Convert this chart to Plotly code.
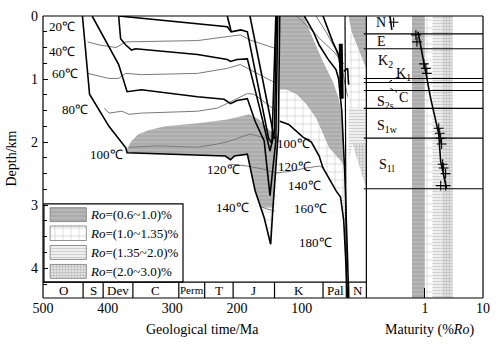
import plotly.graph_objects as go

FONT = "Liberation Serif"

# ---------------- data (age in Ma, depth in km) ----------------
# burial curves (thick black)
b1_age = [439, 428, 398, 372, 370, 261, 218, 210, 204, 184, 172, 158, 148, 145, 140, 136, 134]
b1_dep = [0, 1.24, 1.75, 2.09, 2.17, 2.20, 2.22, 2.28, 2.22, 2.19, 2.77, 3.20, 3.62, 3.13, 2.35, 1.83, 0]
b2_age = [424, 402, 383, 370, 348, 261, 220, 210, 200, 184, 172, 158, 154, 149, 145, 140, 137]
b2_dep = [0, 0.41, 0.77, 1.20, 1.17, 1.28, 1.32, 1.39, 1.34, 1.31, 1.67, 1.98, 2.41, 2.85, 2.46, 1.98, 0]
b3_age = [383, 380, 372, 363, 357, 261, 215, 210, 200, 184, 165, 154, 149, 142, 139]
b3_dep = [0, 0.36, 0.46, 0.54, 0.52, 0.61, 0.69, 0.72, 0.69, 0.68, 1.46, 1.94, 2.14, 1.83, 0]
b4_age = [383, 261, 215, 209, 194, 184, 151, 146, 140]
b4_dep = [0, 0.13, 0.17, 0.25, 0.22, 0.25, 1.95, 2.02, 0]
b5_age = [180, 142]
b5_dep = [0, 1.95]
b6_age = [215, 209]
b6_dep = [0, 0.25]
k1_age = [134, 120, 98, 85, 73, 67, 47, 40, 35, 30.5, 29]
k1_dep = [1.67, 1.72, 1.92, 2.00, 2.22, 2.41, 2.77, 2.87, 3.24, 4.03, 4.47]
k2_age = [96, 82, 73, 59.5, 47, 43, 38, 33.5, 29, 27.4]
k2_dep = [0, 0.25, 0.46, 0.68, 0.85, 0.99, 1.51, 2.46, 3.87, 4.47]
k3_age = [67, 59.5, 52, 43, 40, 38]
k3_dep = [0, 0.20, 0.41, 0.61, 0.83, 1.31]
kbar_age = [39.6, 38.1]
kbar_dep = [0.44, 1.31]
k4_age = [35, 29, 27.4]
k4_dep = [0.88, 0.83, 1.09]
v1_age = [33, 31]
v1_dep = [0, 4.47]

# isotherms (thin grey)
i40_age = [431, 413, 387, 378, 372, 261, 215, 195, 180, 162, 139]
i40_dep = [0.41, 0.46, 0.50, 0.44, 0.41, 0.39, 0.33, 0.30, 0.38, 0.44, 0.52]
i60_age = [431, 398, 383, 372, 348, 261, 215, 195, 180, 139]
i60_dep = [0.91, 0.99, 0.99, 0.91, 0.93, 0.91, 0.83, 0.77, 0.85, 1.07]
i80_age = [405, 398, 378, 367, 348, 261, 230, 200, 184, 174, 139]
i80_dep = [1.46, 1.54, 1.51, 1.56, 1.54, 1.51, 1.46, 1.31, 1.23, 1.24, 1.51]
i100_age = [367, 322, 261, 230, 210, 180, 139]
i100_dep = [2.08, 2.06, 2.08, 2.03, 1.98, 1.87, 1.98]
i120_age = [210, 184, 158.5, 139, 116, 93, 73, 65.5]
i120_dep = [2.35, 2.38, 2.43, 2.49, 2.46, 2.41, 2.38, 2.41]
i140_age = [166, 154, 142]
i140_dep = [3.01, 3.06, 3.09]
ik1_age = [108, 85, 70, 50, 35]
ik1_dep = [0, 0.22, 0.38, 0.57, 0.76]
ik2_age = [78, 62.5, 47, 36.6, 29]
ik2_dep = [0, 0.25, 0.54, 0.88, 1.28]

# maturity zones (polygons)
z1a_age = [372, 363, 352, 337, 311, 261, 215, 195, 181, 166, 151, 137, 140, 143, 163, 172, 184, 204, 210, 218, 261, 370]
z1a_dep = [2.14, 1.98, 1.87, 1.81, 1.75, 1.70, 1.64, 1.59, 1.56, 1.64, 1.80, 1.91, 2.35, 3.04, 3.04, 2.77, 2.19, 2.22, 2.28, 2.22, 2.20, 2.17]
z2a_age = [163, 143, 146, 148]
z2a_dep = [3.04, 3.04, 3.61, 3.62]
z2b_age = [140, 134, 139, 143]
z2b_dep = [2.35, 2.30, 3.12, 3.09]
z1b_age = [134, 97.6, 82.3, 67.1, 51.8, 42.7, 36.6, 35.1, 39.6, 57.9, 67.1, 77.7, 93, 108.2, 123.5, 134.1]
z1b_dep = [0, 0, 0.36, 0.72, 1.04, 1.31, 1.67, 2.38, 2.30, 2.09, 1.87, 1.62, 1.40, 1.24, 1.17, 1.17]
z2c_age = [134.1, 123.5, 108.2, 93, 77.7, 67.1, 57.9, 39.6, 35.1, 33.5, 39.6, 47.3, 67.1, 73.2, 85.4, 97.6, 112.8, 123.5, 134.1]
z2c_dep = [1.17, 1.17, 1.24, 1.40, 1.62, 1.87, 2.09, 2.30, 2.38, 2.93, 2.87, 2.77, 2.41, 2.22, 2.00, 1.91, 1.73, 1.67, 1.69]
z3a_age = [39.6, 33.5, 30.5, 36.6]
z3a_dep = [2.87, 2.93, 3.24, 3.21]
n1_age = [27.4, 0, 0, 22.9]
n1_dep = [0, 0, 0.85, 0.25]
n2_age = [22.9, 0, 0, 27.4, 27.4]
n2_dep = [0.25, 0.85, 1.465, 1.465, 0.41]
n3_age = [27.4, 0, 0, 21.3, 27.4]
n3_dep = [1.465, 1.465, 2.03, 2.03, 2.30]
n4_age = [21.3, 0, 0]
n4_dep = [2.03, 2.03, 2.74]

# isotherm labels
iso_text = ["20℃", "40℃", "60℃", "80℃", "100℃", "120℃", "140℃", "100℃", "120℃", "140℃", "160℃", "180℃"]
iso_age = [471, 471, 466, 451, 402, 221, 207, 113, 111, 96, 87, 79]
iso_dep = [0.17, 0.57, 0.91, 1.48, 2.19, 2.43, 3.04, 2.02, 2.39, 2.69, 3.06, 3.59]

# geological time scale
period_names = ["O", "S", "Dev", "C", "Perm", "T", "J", "K", "Pal", "N"]
period_bounds = [500, 438, 407, 361, 290, 250, 206, 142, 67, 27.4, 0]

# legend classes
ro_classes = ["(0.6~1.0)%", "(1.0~1.35)%", "(1.35~2.0)%", "(2.0~3.0)%"]
ro_lo = [0.6, 1.0, 1.35, 2.0]
ro_hi = [1.0, 1.35, 2.0, 3.0]

# right panel: well strata and vitrinite reflectance
strata_lines = [0.283, 0.520, 0.992, 1.055, 1.181, 1.465, 1.937, 2.740]
profile_ro = [0.76, 1.04, 1.26, 1.73, 1.87, 2.10, 2.36]
profile_dep = [0.25, 0.88, 1.31, 1.87, 2.31, 2.52, 2.74]
meas_ro = [0.70, 0.73, 0.96, 1.04, 1.08, 1.73, 1.80, 1.87, 1.94, 2.02, 2.10, 2.27, 1.87, 2.27, 0.29]
meas_dep = [0.30, 0.41, 0.76, 0.83, 0.91, 1.78, 1.86, 1.94, 2.03, 2.35, 2.41, 2.50, 2.69, 2.69, 0.10]
nseg_ro = [0.25, 0.27]
nseg_dep = [0, 0.22]

DMAX = 4.472

# ---------------- styles ----------------
GRAY = dict(shape='-', bgcolor='#ababab', fgcolor='#d4d4d4', size=4, solidity=0.3)
BRICK = dict(shape='+', bgcolor='#ffffff', fgcolor='#8a8a8a', size=8, solidity=0.14)
LIGHT = dict(shape='-', bgcolor='#f2f2f2', fgcolor='#acacac', size=3, solidity=0.4)
GRID = dict(shape='+', bgcolor='#e2e2e2', fgcolor='#8a8a8a', size=3, solidity=0.35)
PATS = [GRAY, BRICK, LIGHT, GRID]

fig = go.Figure()


def poly(age, dep, pat, xa='x', border=None):
    fig.add_trace(go.Scatter(
        x=list(age) + [age[0]], y=list(dep) + [dep[0]], mode='lines', fill='toself',
        fillcolor=pat['bgcolor'], fillpattern=pat,
        line=dict(width=0.8 if border else 0, color=border or 'rgba(0,0,0,0)'),
        hoverinfo='skip', xaxis=xa, yaxis='y'))


def line(age, dep, w=1.8, color='black', xa='x', dash=None):
    fig.add_trace(go.Scatter(x=age, y=dep, mode='lines',
                             line=dict(width=w, color=color, dash=dash),
                             hoverinfo='skip', xaxis=xa, yaxis='y'))


# right panel bands
for lo, hi, pat in zip(ro_lo, ro_hi, PATS):
    poly([lo, hi, hi, lo], [0, 0, DMAX, DMAX], pat, xa='x2')

# main panel zones
poly(z1a_age, z1a_dep, GRAY)
poly(z2a_age, z2a_dep, BRICK)
poly(z2b_age, z2b_dep, BRICK)
poly(z1b_age, z1b_dep, GRAY)
poly(z2c_age, z2c_dep, BRICK)
poly(z3a_age, z3a_dep, LIGHT)
poly(n1_age, n1_dep, GRAY)
poly(n2_age, n2_dep, BRICK)
poly(n3_age, n3_dep, LIGHT)
poly(n4_age, n4_dep, GRID)

# isotherms
for a, d in [(i40_age, i40_dep), (i60_age, i60_dep), (i80_age, i80_dep), (i100_age, i100_dep),
             (i120_age, i120_dep), (i140_age, i140_dep), (ik1_age, ik1_dep), (ik2_age, ik2_dep)]:
    line(a, d, w=1, color='#7a7a7a')

# burial curves
for a, d in [(b1_age, b1_dep), (b2_age, b2_dep), (b3_age, b3_dep), (b4_age, b4_dep),
             (b5_age, b5_dep), (b6_age, b6_dep), (k1_age, k1_dep), (k2_age, k2_dep),
             (k3_age, k3_dep), (k4_age, k4_dep)]:
    line(a, d, w=1.6)
line(kbar_age, kbar_dep, w=4)
line(v1_age, v1_dep, w=1.2)

# legend swatches
sw_x0, sw_x1 = 489, 433
sw_rows = [(3.04, 3.26), (3.33, 3.56), (3.64, 3.86), (3.94, 4.16)]
for (y0, y1), pat in zip(sw_rows, PATS):
    poly([sw_x0, sw_x1, sw_x1, sw_x0], [y0, y0, y1, y1], pat, border='#777777')

# right panel profile
line(profile_ro, profile_dep, w=1.6, xa='x2')
line(nseg_ro, nseg_dep, w=1.6, xa='x2')
fig.add_trace(go.Scatter(x=meas_ro, y=meas_dep, mode='markers', xaxis='x2', yaxis='y',
                         marker=dict(symbol='cross-thin', size=7, line=dict(width=1.1, color='black')),
                         hoverinfo='skip'))
line([0.245, 0.36], [1.04, 0.96], w=1, xa='x2', dash='dot')
line([0.255, 0.33], [1.15, 1.21], w=1, xa='x2', dash='dot')

# ---------------- shapes ----------------
shapes = []
# legend box
shapes.append(dict(type='rect', xref='x', yref='y', x0=498.5, x1=283.5, y0=2.98, y1=4.22,
                   line=dict(color='black', width=1.2), fillcolor='white', layer='below'))
# time bar
shapes.append(dict(type='line', xref='x', yref='y', x0=500, x1=0, y0=4.22, y1=4.22,
                   line=dict(color='black', width=1.2)))
for b in period_bounds[1:-1]:
    shapes.append(dict(type='line', xref='x', yref='y', x0=b, x1=b, y0=4.22, y1=DMAX,
                       line=dict(color='black', width=1.2)))
# frame
SEP = (371.5 - 43) / 447
for x0, x1, y0, y1 in [(0, 1, 1, 1), (0, 1, 0, 0), (1, 1, 0, 1), (SEP, SEP, 0, 1), (0, 0, 0, 1)]:
    shapes.append(dict(type='line', xref='paper', yref='paper', x0=x0, x1=x1, y0=y0, y1=y1,
                       line=dict(color='black', width=1.2)))
# strata boundaries in the well column
for d in strata_lines:
    shapes.append(dict(type='line', xref='paper', yref='y', x0=0.729, x1=1.0, y0=d, y1=d,
                       line=dict(color='black', width=1.1)))

# ---------------- annotations ----------------
ann = []
C = dict(xanchor='center', yanchor='middle', showarrow=False)
for t, a, d in zip(iso_text, iso_age, iso_dep):
    ann.append(dict(x=a, y=d, xref='x', yref='y', text=t,
                    font=dict(family=FONT, size=13, color='black'), **C))
for i, name in enumerate(period_names):
    mid = (period_bounds[i] + period_bounds[i + 1]) / 2
    ann.append(dict(x=mid, y=(4.22 + DMAX) / 2, xref='x', yref='y', text=name,
                    font=dict(family=FONT, size=11 if name == 'Perm' else 13, color='black'), **C))
for (y0, y1), cls in zip(sw_rows, ro_classes):
    ann.append(dict(x=430, y=(y0 + y1) / 2, xref='x', yref='y', xanchor='left', yanchor='middle',
                    text='<i>Ro</i>=' + cls, showarrow=False,
                    font=dict(family=FONT, size=13, color='black')))

strata_lbl = [("N", 386, 21), ("E", 387, 40), ("K<sub>2</sub>", 391, 60), ("K<sub>1</sub>", 409, 73),
              ("C", 409, 96), ("S<sub>2s</sub>", 391, 101), ("S<sub>1w</sub>", 393, 125),
              ("S<sub>1l</sub>", 392, 165)]
for t, px, py in strata_lbl:
    ann.append(dict(x=(px - 43) / 447, y=(298 - py) / 284, xref='paper', yref='paper', text=t,
                    font=dict(family=FONT, size=14, color='black'), **C))

ann.append(dict(x=(205 - 43) / 447, y=(298 - 330) / 284, xref='paper', yref='paper',
                text='Geological time/Ma', font=dict(family=FONT, size=14, color='black'), **C))
ann.append(dict(x=(436 - 43) / 447, y=(298 - 330) / 284, xref='paper', yref='paper',
                text='Maturity (%<i>Ro</i>)', font=dict(family=FONT, size=14, color='black'), **C))
ann.append(dict(x=(11 - 43) / 447, y=(298 - 158) / 284, xref='paper', yref='paper',
                text='Depth/km', textangle=-90,
                font=dict(family=FONT, size=14, color='black'), **C))

fig.update_layout(
    width=499, height=344, margin=dict(l=43, r=9, t=14, b=46),
    paper_bgcolor='white', plot_bgcolor='white', showlegend=False,
    shapes=shapes, annotations=ann,
    xaxis=dict(domain=[0, SEP], range=[500, 0], tickvals=[500, 400, 300, 200, 100],
               ticks='', showgrid=False, zeroline=False, showline=False, anchor='y',
               tickfont=dict(family=FONT, size=14, color='black')),
    xaxis2=dict(domain=[SEP + 0.001, 1], type='log', range=[-1, 1], tickvals=[1, 10],
                ticktext=['1', '10'], ticks='inside', ticklen=10, tickcolor='black',
                showgrid=False, zeroline=False, showline=False, anchor='y',
                tickfont=dict(family=FONT, size=14, color='black')),
    yaxis=dict(domain=[0, 1], range=[DMAX, 0], tickvals=[0, 1, 2, 3, 4], ticks='inside',
               ticklen=5, tickcolor='black', showgrid=False, zeroline=False, showline=False,
               minor=dict(dtick=0.25, tick0=0, ticks='inside', ticklen=4, tickcolor='black'),
               ticklabelstandoff=4,
               tickfont=dict(family=FONT, size=14, color='black')),
)

fig.write_html("out.html")
